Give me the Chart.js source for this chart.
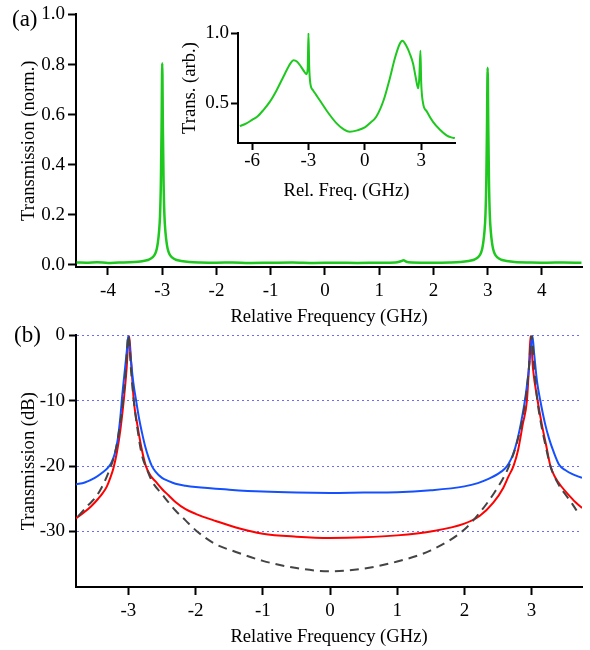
<!DOCTYPE html>
<html>
<head>
<meta charset="utf-8">
<script src="https://cdn.jsdelivr.net/npm/chart.js@4.4.1/dist/chart.umd.min.js"></script>
<style>
    html, body { margin: 0; padding: 0; background: #fff; }
    #wrap { position: relative; width: 590px; height: 650px; overflow: hidden; }
    canvas { position: absolute; }
    #chartA { left: 0; top: 0; }
    #chartB { left: 0; top: 320px; }
    #chartInset { left: 160px; top: 15px; }
    .panel-tag { position: absolute; font: 23px 'Liberation Serif', 'Times New Roman', serif; line-height: 1; }
</style>
</head>
<body>
<div id="wrap">
    <canvas id="chartA" width="590" height="330"></canvas>
    <canvas id="chartB" width="590" height="330"></canvas>
    <canvas id="chartInset" width="310" height="195"></canvas>
    <div class="panel-tag" style="left:12px;top:7px">(a)</div>
    <div class="panel-tag" style="left:14px;top:323px">(b)</div>
</div>
<script>
'use strict';

// Panel (a): normalised transmission vs relative frequency (GHz)
const freqA = [
    -4.58, -4.4, -4.2, -4.0, -3.8, -3.6, -3.45, -3.35, -3.25, -3.18,
    -3.13, -3.1, -3.08, -3.06, -3.04, -3.025, -3.012, -3.0, -2.988, -2.975,
    -2.96, -2.94, -2.92, -2.9, -2.87, -2.82, -2.75, -2.65, -2.5, -2.3,
    -2.0, -1.7, -1.4, -1.0, -0.6, -0.2, 0.2, 0.6, 1.0, 1.3,
    1.4, 1.45, 1.5, 1.6, 2.0, 2.3, 2.5, 2.65, 2.75, 2.82,
    2.87, 2.9, 2.92, 2.94, 2.96, 2.975, 2.988, 3.0, 3.012, 3.025,
    3.04, 3.06, 3.08, 3.1, 3.13, 3.18, 3.25, 3.35, 3.5, 3.8,
    4.1, 4.4, 4.73
];
const transA = [
    0.010, 0.009, 0.011, 0.008, 0.010, 0.011, 0.013, 0.016, 0.021, 0.030,
    0.045, 0.065, 0.090, 0.130, 0.200, 0.330, 0.550, 0.805, 0.550, 0.330,
    0.200, 0.130, 0.090, 0.065, 0.045, 0.030, 0.021, 0.016, 0.012, 0.010,
    0.009, 0.010, 0.008, 0.009, 0.010, 0.008, 0.009, 0.008, 0.009, 0.010,
    0.015, 0.019, 0.013, 0.010, 0.009, 0.010, 0.012, 0.016, 0.021, 0.030,
    0.045, 0.065, 0.090, 0.130, 0.200, 0.330, 0.550, 0.787, 0.550, 0.330,
    0.200, 0.130, 0.090, 0.065, 0.045, 0.030, 0.021, 0.016, 0.012, 0.010,
    0.009, 0.010, 0.009
];
const xTicksA = [-4, -3, -2, -1, 0, 1, 2, 3, 4];
const yTicksA = [0, 0.2, 0.4, 0.6, 0.8, 1.0];

// Inset: wide scan
const freqInset = [
    -6.65, -6.3, -6.0, -5.75, -5.4, -5.05, -4.7, -4.4, -4.1, -3.95,
    -3.8, -3.6, -3.4, -3.2, -3.1, -3.04, -3.0, -2.96, -2.9, -2.75,
    -2.6, -2.4, -2.0, -1.5, -1.1, -0.8, -0.4, 0.0, 0.3, 0.6,
    1.0, 1.33, 1.6, 1.85, 2.0, 2.2, 2.4, 2.57, 2.7, 2.84,
    2.9, 2.96, 3.0, 3.1, 3.3, 3.63, 4.0, 4.35, 4.6, 4.79
];
const transInset = [
    0.335, 0.355, 0.38, 0.40, 0.45, 0.51, 0.59, 0.67, 0.75, 0.785,
    0.805, 0.795, 0.76, 0.72, 0.705, 0.75, 1.0, 0.76, 0.64, 0.59,
    0.56, 0.52, 0.44, 0.355, 0.31, 0.295, 0.305, 0.326, 0.36, 0.40,
    0.52, 0.676, 0.82, 0.92, 0.945, 0.91, 0.85, 0.78, 0.69, 0.605,
    0.68, 0.874, 0.65, 0.50, 0.44, 0.366, 0.31, 0.27, 0.255, 0.25
];
const xTicksInset = [-6, -3, 0, 3];
const yTicksInset = [0.5, 1.0];

// Panel (b): transmission in dB, three traces
const blueFreq = [
    -3.78, -3.65, -3.5, -3.4, -3.3, -3.25, -3.2, -3.16, -3.12, -3.09,
    -3.05, -3.02, -3.0, -2.97, -2.93, -2.885, -2.84, -2.8, -2.75, -2.7,
    -2.65, -2.6, -2.5, -2.4, -2.3, -2.15, -2.0, -1.5, -1.0, -0.5,
    0.0, 0.5, 1.0, 1.5, 2.0, 2.2, 2.35, 2.5, 2.6, 2.66,
    2.72, 2.78, 2.84, 2.9, 2.95, 2.98, 3.01, 3.04, 3.08, 3.13,
    3.2, 3.26, 3.32, 3.41, 3.5, 3.6, 3.75
];
const blueDb = [
    -22.8, -22.5, -21.8, -21.1, -20.2, -19.4, -18.0, -16.0, -12.5, -9.0,
    -5.0, -2.0, 0, -3.0, -7.0, -10.0, -12.8, -14.8, -17.0, -18.7,
    -20.0, -20.8, -21.8, -22.3, -22.7, -23.0, -23.2, -23.6, -23.9, -24.05,
    -24.1, -24.05, -24.0, -23.7, -23.1, -22.6, -22.0, -21.2, -20.4, -19.6,
    -18.3, -16.3, -13.5, -10.0, -6.0, -3.0, 0, -3.0, -7.0, -10.0,
    -13.5, -15.8, -17.6, -19.8, -20.6, -21.2, -21.8
];
const redFreq = [
    -3.78, -3.65, -3.55, -3.45, -3.38, -3.32, -3.27, -3.22, -3.17, -3.12,
    -3.07, -3.03, -2.99, -2.96, -2.92, -2.87, -2.8, -2.74, -2.67, -2.6,
    -2.5, -2.4, -2.3, -2.15, -2.0, -1.7, -1.4, -1.0, -0.5, 0.0,
    0.5, 1.0, 1.5, 2.0, 2.23, 2.43, 2.58, 2.66, 2.73, 2.8,
    2.87, 2.93, 2.96, 2.985, 3.02, 3.09, 3.15, 3.22, 3.28, 3.35,
    3.45, 3.55, 3.65, 3.75
];
const redDb = [
    -28.0, -27.0, -26.1, -25.0, -24.1, -23.1, -21.8, -20.2, -17.8, -14.5,
    -10.0, -5.5, 0, -4.0, -10.0, -13.5, -17.5, -20.0, -21.5, -22.3,
    -23.5, -24.5, -25.5, -26.6, -27.3, -28.4, -29.4, -30.35, -30.8, -31.0,
    -30.9, -30.6, -30.0, -28.8, -27.6, -25.6, -23.3, -21.5, -20.0, -17.5,
    -13.5, -10.0, -5.0, 0, -5.0, -10.0, -13.5, -17.0, -20.0, -21.7,
    -23.2, -24.4, -25.5, -26.4
];
const modelFreq = [
    -3.75, -3.6, -3.49, -3.4, -3.29, -3.2, -3.13, -3.08, -3.04, -3.0,
    -2.96, -2.92, -2.87, -2.8, -2.72, -2.65, -2.5, -2.3, -2.15, -2.0,
    -1.71, -1.41, -1.0, -0.5, 0.0, 0.5, 1.0, 1.5, 2.0, 2.23,
    2.43, 2.63, 2.7, 2.78, 2.86, 2.92, 2.96, 3.0, 3.04, 3.08,
    3.14, 3.2, 3.28, 3.4, 3.5, 3.6, 3.67
];
const modelDb = [
    -27.7, -26.0, -24.8, -23.3, -20.8, -18.0, -14.0, -10.0, -5.5, 0,
    -5.5, -10.0, -14.0, -18.3, -20.6, -22.3, -24.3, -26.8, -28.3, -29.8,
    -31.9, -33.1, -34.5, -35.6, -36.1, -35.7, -34.6, -32.9, -29.7, -27.1,
    -24.3, -20.8, -19.0, -16.5, -13.0, -9.0, -5.0, 0, -5.0, -9.5,
    -13.5, -16.5, -20.0, -22.8, -24.3, -25.7, -26.8
];
const xTicksB = [-3, -2, -1, 0, 1, 2, 3];
const yTicksB = [0, -10, -20, -30];

Chart.defaults.font.family = "'Liberation Serif', 'Times New Roman', serif";
Chart.defaults.color = '#000';
Chart.defaults.animation = false;

function points(xs, ys) {
    return xs.map((x, i) => ({ x: x, y: ys[i] }));
}

function fixedTicks(values) {
    return function (scale) {
        scale.ticks = values.map(v => ({ value: v }));
    };
}

function trace(xs, ys, color, width, dash) {
    return {
        data: points(xs, ys),
        borderColor: color,
        borderWidth: width,
        borderDash: dash || [],
        pointRadius: 0,
        cubicInterpolationMode: 'monotone'
    };
}

function xAxis(o) {
    return {
        type: 'linear',
        min: o.min,
        max: o.max,
        afterBuildTicks: fixedTicks(o.ticks),
        afterFit: s => { s.height = o.height; },
        border: { display: true, color: '#000', width: 2 },
        grid: { drawOnChartArea: false, tickLength: o.tickLength, tickWidth: 2, tickColor: '#000' },
        ticks: { font: { size: 19 }, padding: o.tickPad, maxRotation: 0, autoSkip: false },
        title: { display: true, text: o.title, font: { size: 18.6 }, padding: { top: 0, bottom: o.titlePad } }
    };
}

function yAxis(o) {
    const grid = o.gridColor
        ? { drawOnChartArea: true, color: o.gridColor, lineWidth: 1, tickLength: o.tickLength, tickWidth: 2, tickColor: '#000' }
        : { drawOnChartArea: false, tickLength: o.tickLength, tickWidth: 2, tickColor: '#000' };
    return {
        type: 'linear',
        min: o.min,
        max: o.max,
        afterBuildTicks: fixedTicks(o.ticks),
        afterFit: s => { s.width = o.width; },
        // border.dash styles the grid lines in v4, the axis line stays solid
        border: { display: true, color: '#000', width: 2, dash: o.gridColor ? [2, 3] : [] },
        grid: grid,
        ticks: { font: { size: 19 }, padding: o.tickPad, callback: o.format },
        title: { display: true, text: o.title, font: { size: 18.6 }, padding: { top: o.titlePad, bottom: 0 } }
    };
}

function makeChart(id, datasets, padding, scales) {
    return new Chart(document.getElementById(id), {
        type: 'line',
        data: { datasets: datasets },
        options: {
            responsive: false,
            layout: { padding: padding },
            plugins: { legend: { display: false }, tooltip: { enabled: false } },
            scales: scales
        }
    });
}

const green = '#1ec81e';

makeChart('chartA', [trace(freqA, transA, green, 2.5)],
    { left: 0, right: 8, top: 14, bottom: 0 },
    {
        x: xAxis({ min: -4.59, max: 4.74, ticks: xTicksA, height: 63, tickLength: 8, tickPad: 5, titlePad: 2, title: 'Relative Frequency (GHz)' }),
        y: yAxis({ min: -0.008, max: 1.0, ticks: yTicksA, width: 76, tickLength: 8, tickPad: 3, titlePad: 18,
            title: 'Transmission (norm.)', format: v => v.toFixed(1) })
    });

makeChart('chartInset', [trace(freqInset, transInset, green, 2)],
    { left: 0, right: 15, top: 18, bottom: 0 },
    {
        x: xAxis({ min: -6.75, max: 4.8, ticks: xTicksInset, height: 67, tickLength: 7, tickPad: 0, titlePad: 8, title: 'Rel. Freq. (GHz)' }),
        y: yAxis({ min: 0.215, max: 1.0, ticks: yTicksInset, width: 78, tickLength: 7, tickPad: 2, titlePad: 19,
            title: 'Trans. (arb.)', format: v => v.toFixed(1) })
    });

makeChart('chartB', [
        trace(modelFreq, modelDb, '#444444', 2, [9, 6]),
        trace(blueFreq, blueDb, '#1450ff', 2),
        trace(redFreq, redDb, '#ff0000', 2)
    ],
    { left: 0, right: 8, top: 13, bottom: 0 },
    {
        x: xAxis({ min: -3.78, max: 3.75, ticks: xTicksB, height: 63, tickLength: 8, tickPad: 5, titlePad: 2, title: 'Relative Frequency (GHz)' }),
        y: yAxis({ min: -38.5, max: 0, ticks: yTicksB, width: 76, tickLength: 7, tickPad: 4, titlePad: 18,
            title: 'Transmission (dB)', format: v => String(v), gridColor: '#6b6bff' })
    });
</script>
</body>
</html>
